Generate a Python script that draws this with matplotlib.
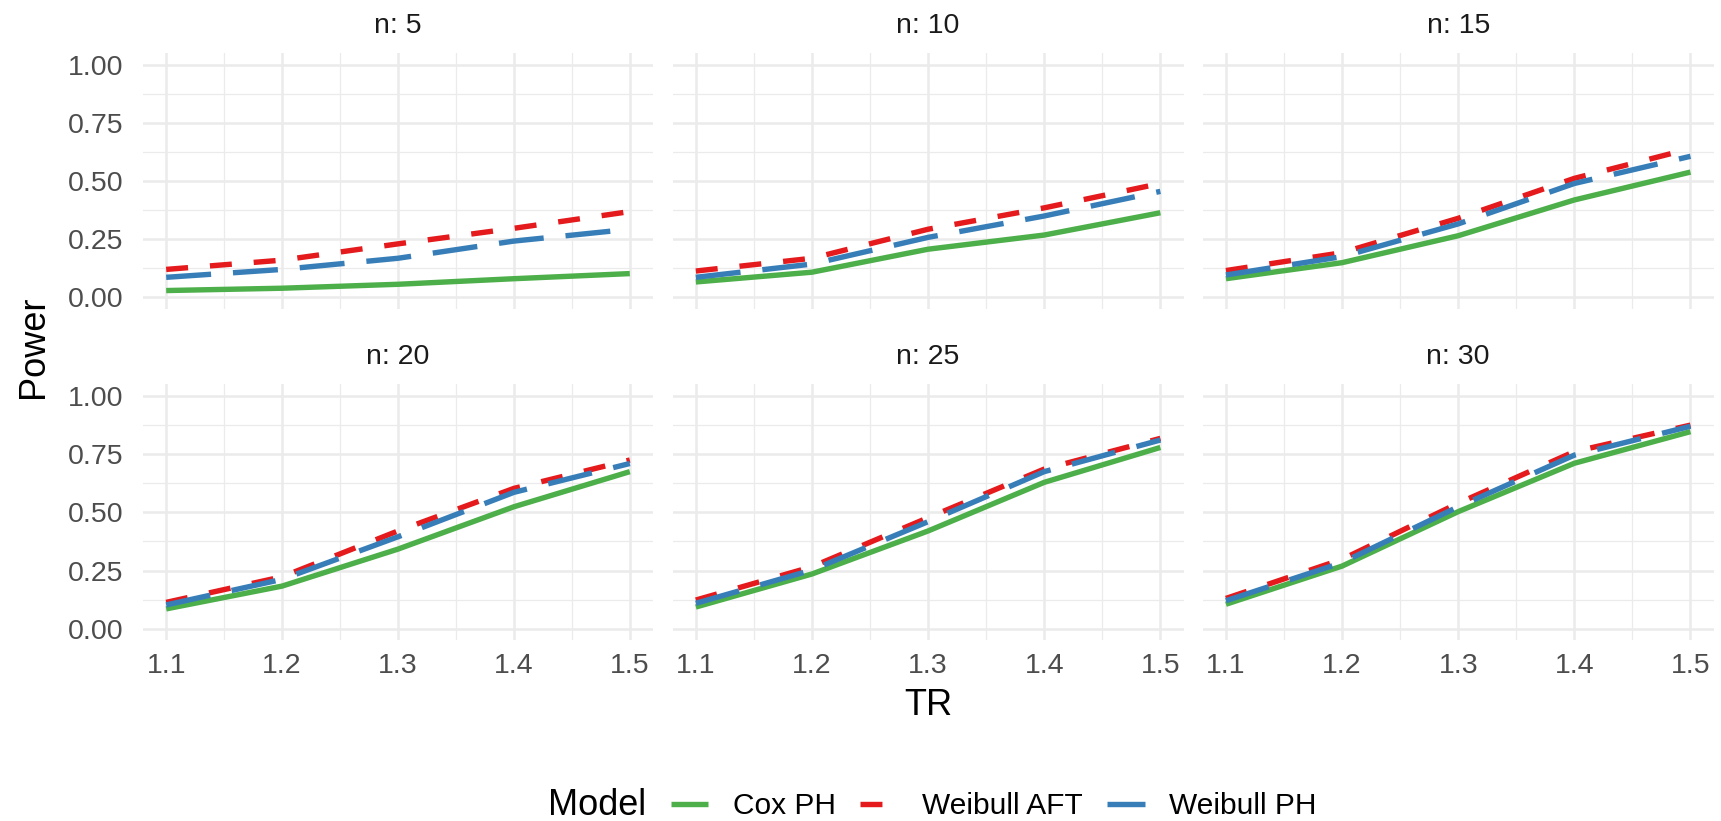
import matplotlib
matplotlib.use("Agg")
import matplotlib.pyplot as plt
from matplotlib.lines import Line2D

plt.rcParams['font.family'] = ['Liberation Sans', 'DejaVu Sans']
plt.rcParams['lines.scale_dashes'] = False

# ---- data ----
tr = [1.1, 1.2, 1.3, 1.4, 1.5]
n_values = [5, 10, 15, 20, 25, 30]
models = ["Cox PH", "Weibull AFT", "Weibull PH"]

cox_ph = [
    [0.029, 0.039, 0.056, 0.080, 0.102],
    [0.066, 0.108, 0.207, 0.268, 0.364],
    [0.080, 0.149, 0.265, 0.419, 0.539],
    [0.085, 0.183, 0.342, 0.524, 0.675],
    [0.093, 0.235, 0.420, 0.629, 0.779],
    [0.105, 0.269, 0.503, 0.711, 0.847],
]
weibull_aft = [
    [0.120, 0.160, 0.230, 0.297, 0.369],
    [0.113, 0.168, 0.293, 0.385, 0.490],
    [0.115, 0.192, 0.340, 0.512, 0.640],
    [0.113, 0.223, 0.420, 0.603, 0.725],
    [0.123, 0.266, 0.477, 0.686, 0.818],
    [0.130, 0.298, 0.539, 0.761, 0.875],
]
weibull_ph = [
    [0.086, 0.120, 0.168, 0.242, 0.293],
    [0.086, 0.143, 0.258, 0.350, 0.456],
    [0.096, 0.175, 0.316, 0.490, 0.607],
    [0.102, 0.212, 0.395, 0.586, 0.710],
    [0.109, 0.252, 0.460, 0.675, 0.811],
    [0.120, 0.284, 0.524, 0.746, 0.870],
]
series = [cox_ph, weibull_aft, weibull_ph]

y_ticks = [0.00, 0.25, 0.50, 0.75, 1.00]
y_ticklabels = ["0.00", "0.25", "0.50", "0.75", "1.00"]
x_ticks = [1.1, 1.2, 1.3, 1.4, 1.5]
x_ticklabels = ["1.1", "1.2", "1.3", "1.4", "1.5"]

# ---- styles ----
colors = ["#4DAF4A", "#E41A1C", "#377EB8"]
lw_px = 5.4
lw = lw_px * 72 / 100
dashes = [None, (0, (15.8, 15.8)), (0, (32.4, 15.8))]
grid_col = "#EBEBEB"

W, H = 1721, 821
fig = plt.figure(figsize=(W / 100, H / 100), dpi=100)

col_x = [(143.0, 653.0), (672.6, 1183.6), (1202.7, 1713.7)]
row_y = [(53.4, 308.9), (384.4, 640.3)]

for i, n in enumerate(n_values):
    r, c = divmod(i, 3)
    x0, x1 = col_x[c]
    y0, y1 = row_y[r]
    ax = fig.add_axes([x0 / W, 1 - y1 / H, (x1 - x0) / W, (y1 - y0) / H])
    ax.set_xlim(1.08, 1.52)
    ax.set_ylim(-0.05, 1.05)
    for s in ax.spines.values():
        s.set_visible(False)
    ax.set_xticks(x_ticks)
    ax.set_yticks(y_ticks)
    ax.set_xticks([1.15, 1.25, 1.35, 1.45], minor=True)
    ax.set_yticks([0.125, 0.375, 0.625, 0.875], minor=True)
    ax.grid(which="major", color=grid_col, lw=1.8)
    ax.grid(which="minor", color=grid_col, lw=0.9)
    ax.set_axisbelow(True)
    ax.tick_params(which="both", length=0)
    if c == 0:
        ax.set_yticklabels(y_ticklabels, fontsize=20.5, color="#4D4D4D")
        ax.tick_params(axis="y", pad=14)
    else:
        ax.set_yticklabels([])
    if r == 1:
        ax.set_xticklabels(x_ticklabels, fontsize=20.5, color="#4D4D4D")
        ax.tick_params(axis="x", pad=9)
    else:
        ax.set_xticklabels([])
    for k, data in enumerate(series):
        ln, = ax.plot(tr, data[i], color=colors[k], lw=lw, solid_capstyle="butt",
                      dash_capstyle="butt", label=models[k])
        if dashes[k] is not None:
            ln.set_linestyle(dashes[k])
    ax.set_title(f"n: {n}", fontsize=20.5, color="#1A1A1A", pad=15)

fig.text(928 / W, 1 - 705 / H, "TR", fontsize=26, ha="center", va="center")
fig.text(33 / W, 1 - 347 / H, "Power", fontsize=26, rotation=90, ha="center", va="center")

# legend
handles = []
for k in range(3):
    h = Line2D([], [], color=colors[k], lw=lw, solid_capstyle="butt", dash_capstyle="butt")
    if dashes[k] is not None:
        h.set_linestyle(dashes[k])
    handles.append(h)
fig.text(548 / W, 1 - 805 / H, "Model", fontsize=26, ha="left", va="center")
fig.legend(handles, models, loc="center left", bbox_to_anchor=(671 / W, 1 - 806 / H),
           ncol=3, frameon=False, fontsize=21.5, handlelength=1.25, handletextpad=0.82,
           columnspacing=0.82, borderpad=0, borderaxespad=0)

fig.savefig("out.png", dpi=100)
